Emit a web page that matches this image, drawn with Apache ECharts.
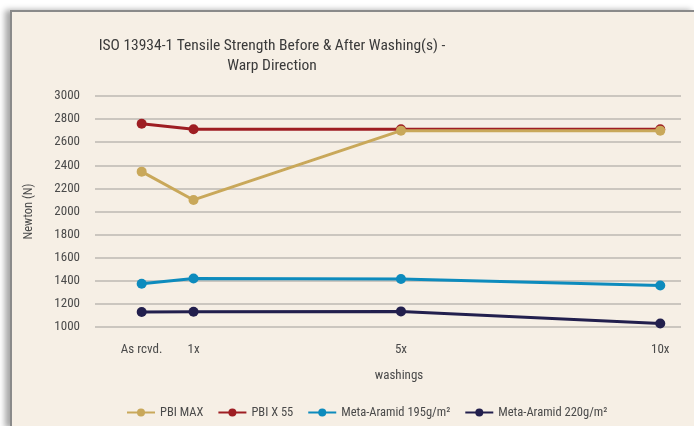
<!DOCTYPE html>
<html>
<head>
<meta charset="utf-8">
<script src="https://cdn.jsdelivr.net/npm/echarts@6.0.0/dist/echarts.min.js"></script>
<style>
    html, body { margin: 0; padding: 0; background: #ffffff; }
    #main {
        position: absolute;
        left: 10px;
        top: 10px;
        width: 684px;
        height: 416px;
        background: #f6efe5;
        border-left: 2px solid #8a8a8a;
        border-top: 2px solid #8a8a8a;
        box-shadow: -5px 0 6px rgba(0, 0, 0, 0.35);
    }
</style>
</head>
<body>
<div id="main"></div>
<script>
// washings (0 = as received)
var washPos = [0, 1, 5, 10];
var washLabels = ['As rcvd.', '1x', '5x', '10x'];

var pbiMax = [2345, 2100, 2700, 2700];
var pbiX55 = [2760, 2712, 2712, 2712];
var meta195 = [1375, 1420, 1415, 1360];
var meta220 = [1130, 1132, 1135, 1030];

var seriesNames = ['PBI MAX', 'PBI X 55', 'Meta-Aramid 195g/m²', 'Meta-Aramid 220g/m²'];
var seriesColors = ['#c9a85a', '#9e1e23', '#0d8bbd', '#221f4d'];
var seriesData = [pbiMax, pbiX55, meta195, meta220];

var myChart = echarts.init(document.getElementById('main'));

function pairs(values) {
    return washPos.map(function (x, i) {
        return [x, values[i]];
    });
}

var font = '"Liberation Sans Narrow", "Roboto Condensed", Roboto';

var labelText = {
    color: '#4a4a4a',
    fontSize: 12.5,
    fontFamily: font,
};

var option = {
    backgroundColor: '#f6efe5',
    textStyle: {
        fontFamily: font,
    },
    title: {
        text: 'ISO 13934-1 Tensile Strength Before & After Washing(s) -\nWarp Direction',
        left: 255,
        top: 19,
        textAlign: 'center',
        textStyle: {
            color: '#3a3a3a',
            fontSize: 15.5,
            fontWeight: 'normal',
            lineHeight: 20,
            fontFamily: font,
        },
    },
    legend: {
        data: seriesNames,
        left: 109,
        top: 389,
        itemWidth: 28,
        itemHeight: 10,
        itemGap: 14,
        textStyle: labelText,
    },
    grid: {
        left: 83,
        right: 15,
        top: 84,
        bottom: 101,
    },
    xAxis: {
        type: 'value',
        min: -0.9,
        max: 10.4,
        name: 'washings',
        nameLocation: 'middle',
        nameGap: 42,
        nameTextStyle: {
            color: '#4a4a4a',
            fontSize: 13,
            fontFamily: font,
            padding: [0, 0, 0, 22],
        },
        axisLine: { show: false },
        axisTick: { show: false },
        splitLine: { show: false },
        axisLabel: {
            customValues: washPos,
            margin: 16,
            color: '#4a4a4a',
            fontSize: 13,
            fontFamily: font,
            formatter: function (value) {
                var i = washPos.indexOf(value);
                return i >= 0 ? washLabels[i] : '';
            },
        },
    },
    yAxis: {
        type: 'value',
        min: 1000,
        max: 3000,
        interval: 200,
        name: 'Newton (N)',
        nameLocation: 'middle',
        nameGap: 60,
        nameTextStyle: labelText,
        axisLine: { show: false },
        axisTick: { show: false },
        axisLabel: {
            margin: 15,
            color: '#4a4a4a',
            fontSize: 13,
            fontFamily: font,
            formatter: function (value) {
                return String(value);
            },
        },
        splitLine: {
            lineStyle: {
                color: '#bcb8b2',
                width: 1.5,
            },
        },
    },
    series: seriesNames.map(function (name, i) {
        return {
            name: name,
            type: 'line',
            data: pairs(seriesData[i]),
            symbol: 'circle',
            symbolSize: 10,
            color: seriesColors[i],
            lineStyle: { width: 3 },
            z: i === 0 ? 3 : 2,
            animation: false,
        };
    }),
};

myChart.setOption(option);
</script>
</body>
</html>
